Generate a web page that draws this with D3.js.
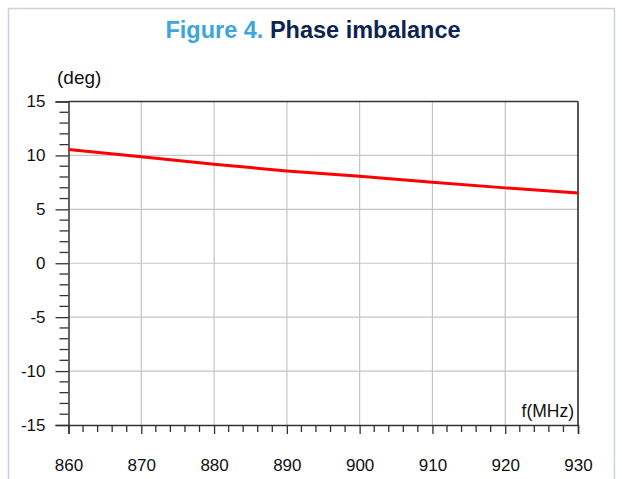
<!DOCTYPE html>
<html><head><meta charset="utf-8">
<script src="https://cdn.jsdelivr.net/npm/d3@7"></script>
<style>body{margin:0;background:#fff}svg{display:block}</style>
</head><body>
<script>
const freq = [860, 870, 880, 890, 900, 910, 920, 930];
const phase = [10.54, 9.87, 9.18, 8.56, 8.07, 7.51, 6.99, 6.52];
const xTicks = [860, 870, 880, 890, 900, 910, 920, 930];
const yTicks = [-15, -10, -5, 0, 5, 10, 15];

const W = 622, H = 479;
const svg = d3.select("body").append("svg").attr("width", W).attr("height", H);
const font = "Liberation Sans, Arial, sans-serif";

// outer frame
svg.append("path").attr("d", "M8.5,479 V8.5 H614.5 V479")
  .attr("fill", "none").attr("stroke", "#c9d2db").attr("stroke-width", 1.5);

// title
const t = svg.append("text").attr("x", 313).attr("y", 38).attr("text-anchor", "middle")
  .attr("font-family", font).attr("font-weight", "bold").attr("font-size", 23.5);
t.append("tspan").attr("fill", "#3aa6dd").text("Figure 4. ");
t.append("tspan").attr("fill", "#0d2452").text("Phase imbalance");

const L = 68.5, R = 578, T = 101.5, B = 425;
const x = d3.scaleLinear().domain([860, 930]).range([L, R]);
const y = d3.scaleLinear().domain([-15, 15]).range([B, T]);

// grid
svg.append("g").selectAll("line").data(xTicks.slice(1, -1)).join("line")
  .attr("x1", d => x(d)).attr("x2", d => x(d)).attr("y1", T).attr("y2", B)
  .attr("stroke", "#c4c4c4").attr("stroke-width", 1.2);
svg.append("g").selectAll("line").data(yTicks.slice(1, -1)).join("line")
  .attr("y1", d => y(d)).attr("y2", d => y(d)).attr("x1", L).attr("x2", R)
  .attr("stroke", "#c4c4c4").attr("stroke-width", 1.2);

// top and right border
svg.append("line").attr("x1", L).attr("x2", R).attr("y1", T).attr("y2", T)
  .attr("stroke", "#333").attr("stroke-width", 1.5);
svg.append("line").attr("x1", R).attr("x2", R).attr("y1", T).attr("y2", B)
  .attr("stroke", "#555").attr("stroke-width", 2);

// y axis
const yAxis = d3.axisLeft(y).tickValues(yTicks).tickSize(13).tickPadding(10).tickFormat(d => String(d));
const gy = svg.append("g").attr("transform", `translate(${L},0)`).call(yAxis);
gy.selectAll(".tick text").attr("font-size", 17).attr("font-family", font).attr("fill", "#111");
gy.select(".domain").attr("stroke", "#333").attr("stroke-width", 1.5);
gy.selectAll(".tick line").attr("stroke", "#333").attr("stroke-width", 1.3);
const yMinor = d3.range(-15, 16, 1).filter(v => v % 5 !== 0);
svg.append("g").selectAll("line").data(yMinor).join("line")
  .attr("x1", L - 9).attr("x2", L).attr("y1", d => y(d)).attr("y2", d => y(d))
  .attr("stroke", "#333").attr("stroke-width", 1.3);

// x axis
const xAxis = d3.axisBottom(x).tickValues(xTicks).tickSize(9).tickPadding(25).tickFormat(d => String(d));
const gx = svg.append("g").attr("transform", `translate(0,${B})`).call(xAxis);
gx.selectAll(".tick text").attr("font-size", 17).attr("font-family", font).attr("fill", "#111");
gx.select(".domain").attr("stroke", "#333").attr("stroke-width", 1.5);
gx.selectAll(".tick line").attr("stroke", "#333").attr("stroke-width", 1.3);
const xMinor = d3.range(860, 931, 2).filter(v => v % 10 !== 0);
svg.append("g").selectAll("line").data(xMinor).join("line")
  .attr("y1", B).attr("y2", B + 7).attr("x1", d => x(d)).attr("x2", d => x(d))
  .attr("stroke", "#333").attr("stroke-width", 1.3);

// axis labels
svg.append("text").attr("x", 57).attr("y", 84).attr("font-family", font).attr("font-size", 19)
  .attr("fill", "#111").text("(deg)");
svg.append("text").attr("x", 574).attr("y", 417).attr("text-anchor", "end").attr("font-family", font)
  .attr("font-size", 17.5).attr("fill", "#111").text("f(MHz)");

// data line
svg.append("path").datum(freq.map((f, i) => [f, phase[i]]))
  .attr("d", d3.line().x(d => x(d[0])).y(d => y(d[1])))
  .attr("fill", "none").attr("stroke", "#ff0000").attr("stroke-width", 3);
</script>
</body></html>
